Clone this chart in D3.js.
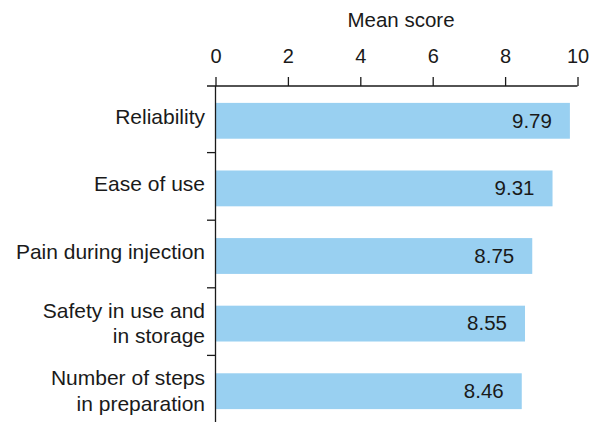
<!DOCTYPE html>
<html>
<head>
<meta charset="utf-8">
<script src="https://cdn.jsdelivr.net/npm/d3@7"></script>
<style>
  body { margin: 0; background: #fff; }
  svg text { font-family: "Liberation Sans", Arial, Helvetica, sans-serif; fill: #1a1a1a; }
</style>
</head>
<body>
<svg id="chart" width="589" height="422"></svg>
<script>
'use strict';

var categories = [
      ['Reliability']
    , ['Ease of use']
    , ['Pain during injection']
    , ['Safety in use and', 'in storage']
    , ['Number of steps', 'in preparation']
    ]
  , scores = [9.79, 9.31, 8.75, 8.55, 8.46]
  , xTicks = [0, 2, 4, 6, 8, 10]
  , axisTitle = 'Mean score'

var svg = d3.select('#chart')
  , ink = '#1a1a1a'
  , barFill = '#99d0f1'
  , fontSize = 20

var x = d3.scaleLinear().domain([0, 10]).range([215.5, 577.5])
  , y = d3.scaleBand()
          .domain(d3.range(categories.length))
          .range([87, 425])
          .paddingInner(0.47)
          .paddingOuter(0.235)

// bars
svg.append('g')
  .selectAll('rect')
  .data(scores)
  .join('rect')
    .attr('x', x(0))
    .attr('y', function(d, i){ return y(i); })
    .attr('width', function(d){ return x(d) - x(0); })
    .attr('height', y.bandwidth())
    .attr('fill', barFill);

// value labels, inside the bar end
svg.append('g')
  .selectAll('text')
  .data(scores)
  .join('text')
    .attr('x', function(d){ return x(d) - 18; })
    .attr('y', function(d, i){ return y(i) + y.bandwidth() / 2; })
    .attr('dy', '0.33em')
    .attr('text-anchor', 'end')
    .style('font-size', '20.5px')
    .text(function(d){ return d.toFixed(2); });

// top axis
var xAxis = svg.append('g')
  .attr('transform', 'translate(0,86)')
  .call(d3.axisTop(x).tickValues(xTicks).tickSize(9).tickPadding(14).tickSizeOuter(0));

xAxis.select('.domain').remove();
xAxis.append('line')
  .attr('x1', 207).attr('x2', x(10))
  .attr('stroke', ink).attr('stroke-width', 1.3);
xAxis.selectAll('.tick line').attr('stroke', ink).attr('stroke-width', 1.3);
xAxis.selectAll('.tick text')
  .attr('fill', ink)
  .style('font-size', fontSize + 'px')
  .style('font-family', '"Liberation Sans", Arial, sans-serif');

svg.append('text')
  .attr('x', 401)
  .attr('y', 27)
  .attr('text-anchor', 'middle')
  .style('font-size', '20.5px')
  .text(axisTitle);

// left axis line + ticks between bands
svg.append('line')
  .attr('x1', x(0)).attr('x2', x(0))
  .attr('y1', 86).attr('y2', 422)
  .attr('stroke', ink).attr('stroke-width', 1.3);

var between = d3.range(1, categories.length).map(function(i){
  return (y(i - 1) + y.bandwidth() + y(i)) / 2 - 2;
});

svg.append('g')
  .selectAll('line')
  .data(between)
  .join('line')
    .attr('x1', 207).attr('x2', x(0))
    .attr('y1', function(d){ return d; })
    .attr('y2', function(d){ return d; })
    .attr('stroke', ink).attr('stroke-width', 1.3);

// category labels, one or two lines
// single lines sit a touch above the bar middle, like the original
var lineGap = 25.5;
svg.append('g')
  .selectAll('text')
  .data(categories)
  .join('text')
    .attr('text-anchor', 'end')
    .style('font-size', '21px')
    .attr('transform', function(d, i){
      var mid = y(i) + y.bandwidth() / 2
        , shift = d.length > 1 ? 7 : 3
      return 'translate(205,' + (mid + shift - (d.length - 1) * lineGap / 2) + ')';
    })
  .selectAll('tspan')
  .data(function(d){ return d; })
  .join('tspan')
    .attr('x', 0)
    .attr('y', function(d, j){ return j * lineGap; })
    .text(function(d){ return d; });
</script>
</body>
</html>
